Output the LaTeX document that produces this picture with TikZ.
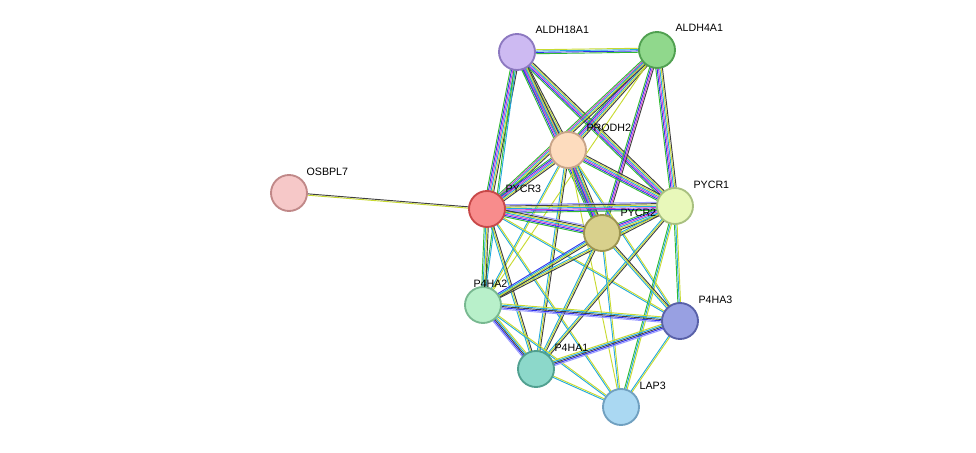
\documentclass[tikz,border=0pt]{standalone}
\usepackage{fontspec}
\setmainfont{Liberation Sans}
\usetikzlibrary{calc}
\definecolor{sg}{HTML}{33BB33}
\definecolor{sb}{HTML}{3333EE}
\definecolor{sm}{HTML}{D040D0}
\definecolor{sc}{HTML}{22AADD}
\definecolor{sy}{HTML}{C8DA30}
\definecolor{sk}{HTML}{404040}
\definecolor{sv}{HTML}{9999FF}
\definecolor{f1}{HTML}{F6C8C8}\definecolor{d1}{HTML}{C08888}
\definecolor{f2}{HTML}{F88C8C}\definecolor{d2}{HTML}{C84848}
\definecolor{f3}{HTML}{CDBAF2}\definecolor{d3}{HTML}{8C78C0}
\definecolor{f4}{HTML}{90D88C}\definecolor{d4}{HTML}{50A050}
\definecolor{f5}{HTML}{FDDCBE}\definecolor{d5}{HTML}{C8A488}
\definecolor{f6}{HTML}{E8F8BA}\definecolor{d6}{HTML}{A8C080}
\definecolor{f7}{HTML}{D8D08C}\definecolor{d7}{HTML}{9C9450}
\definecolor{f8}{HTML}{B8F0CA}\definecolor{d8}{HTML}{78B890}
\definecolor{f9}{HTML}{98A0E2}\definecolor{d9}{HTML}{5860A8}
\definecolor{f10}{HTML}{8CD8CA}\definecolor{d10}{HTML}{50A090}
\definecolor{f11}{HTML}{AAD8F2}\definecolor{d11}{HTML}{70A0C0}
\newcommand\edg[4]{\foreach \c [count=\i] in {#4}{%
  \pgfmathsetmacro\o{(\i-(#3+1)/2)*1.0}%
  \draw[\c,line width=0.7pt] ($(#1)!\o pt!90:(#2)$) -- ($(#2)!\o pt!-90:(#1)$);}}
\begin{document}
\begin{tikzpicture}[x=0.75pt,y=-0.75pt,
  prot/.style={circle,minimum size=27pt,inner sep=0pt,line width=1.4pt},
  lab/.style={font=\fontsize{8}{9}\selectfont,anchor=south west,inner sep=1pt}]
\useasboundingbox (0,0) rectangle (976,453);
\coordinate (osb) at (289,193);
\coordinate (p3) at (487,209);
\coordinate (a18) at (517,52);
\coordinate (a4) at (657,50);
\coordinate (pr) at (568,150);
\coordinate (p1) at (675,206);
\coordinate (p2) at (602,233);
\coordinate (h2) at (483,305);
\coordinate (h3) at (680,321);
\coordinate (h1) at (536,369);
\coordinate (lap) at (621,407);
\edg{osb}{p3}{2}{sy,sk}
\edg{a18}{a4}{4}{sg,sb,sc,sy}
\edg{a18}{pr}{6}{sg,sb,sm,sc,sy,sk}
\edg{a18}{p3}{6}{sg,sb,sm,sc,sy,sk}
\edg{a18}{p1}{6}{sg,sb,sm,sc,sy,sk}
\edg{a18}{p2}{6}{sg,sb,sm,sc,sy,sk}
\edg{a18}{h2}{2}{sg,sc}
\edg{a4}{pr}{6}{sg,sb,sm,sc,sy,sk}
\edg{a4}{p3}{5}{sg,sm,sc,sy,sk}
\edg{a4}{p1}{6}{sg,sb,sm,sc,sy,sk}
\edg{a4}{p2}{4}{sg,sb,sm,sk}
\edg{a4}{h2}{1}{sy}
\edg{pr}{p3}{6}{sg,sb,sm,sc,sy,sk}
\edg{pr}{p1}{6}{sg,sb,sm,sc,sy,sk}
\edg{pr}{p2}{6}{sg,sb,sm,sc,sy,sk}
\edg{pr}{h2}{2}{sc,sy}
\edg{pr}{h1}{3}{sc,sy,sk}
\edg{pr}{h3}{2}{sc,sy}
\edg{pr}{lap}{1}{sy}
\edg{p3}{p1}{7}{sg,sb,sm,sc,sy,sk,sv}
\edg{p3}{p2}{7}{sg,sb,sm,sc,sy,sk,sv}
\edg{p3}{h2}{4}{sg,sc,sy,sk}
\edg{p3}{h1}{3}{sc,sy,sk}
\edg{p3}{h3}{2}{sc,sy}
\edg{p3}{lap}{2}{sc,sy}
\edg{p1}{p2}{6}{sg,sb,sm,sc,sy,sk}
\edg{p1}{h2}{3}{sc,sy,sk}
\edg{p1}{h1}{3}{sc,sy,sk}
\edg{p1}{h3}{3}{sg,sc,sy}
\edg{p1}{lap}{3}{sg,sc,sy}
\edg{p2}{h2}{4}{sb,sc,sy,sk}
\edg{p2}{h1}{3}{sc,sy,sk}
\edg{p2}{h3}{3}{sc,sy,sk}
\edg{p2}{lap}{2}{sc,sy}
\edg{h2}{h3}{5}{sv,sb,sk,sc,sy}
\edg{h2}{h1}{5}{sv,sb,sk,sc,sy}
\edg{h2}{lap}{2}{sc,sy}
\edg{h1}{h3}{5}{sv,sb,sk,sc,sy}
\edg{h1}{lap}{2}{sc,sy}
\edg{h3}{lap}{2}{sc,sy}
\node[prot,fill=f1,draw=d1] (OSBPL7) at (osb) {};
\node[prot,fill=f2,draw=d2] (PYCR3) at (p3) {};
\node[prot,fill=f3,draw=d3] (ALDH18A1) at (a18) {};
\node[prot,fill=f4,draw=d4] (ALDH4A1) at (a4) {};
\node[prot,fill=f5,draw=d5] (PRODH2) at (pr) {};
\node[prot,fill=f6,draw=d6] (PYCR1) at (p1) {};
\node[prot,fill=f7,draw=d7] (PYCR2) at (p2) {};
\node[prot,fill=f8,draw=d8] (P4HA2) at (h2) {};
\node[prot,fill=f9,draw=d9] (P4HA3) at (h3) {};
\node[prot,fill=f10,draw=d10] (P4HA1) at (h1) {};
\node[prot,fill=f11,draw=d11] (LAP3) at (lap) {};
\node[lab] at (305,177) {OSBPL7};
\node[lab] at (504,194) {PYCR3};
\node[lab] at (534,35) {ALDH18A1};
\node[lab] at (674,33) {ALDH4A1};
\node[lab] at (585,133) {PRODH2};
\node[lab] at (692,190) {PYCR1};
\node[lab] at (619,218) {PYCR2};
\node[lab] at (472,289) {P4HA2};
\node[lab] at (697,305) {P4HA3};
\node[lab] at (553,353) {P4HA1};
\node[lab] at (638,391) {LAP3};
\end{tikzpicture}
\end{document}
